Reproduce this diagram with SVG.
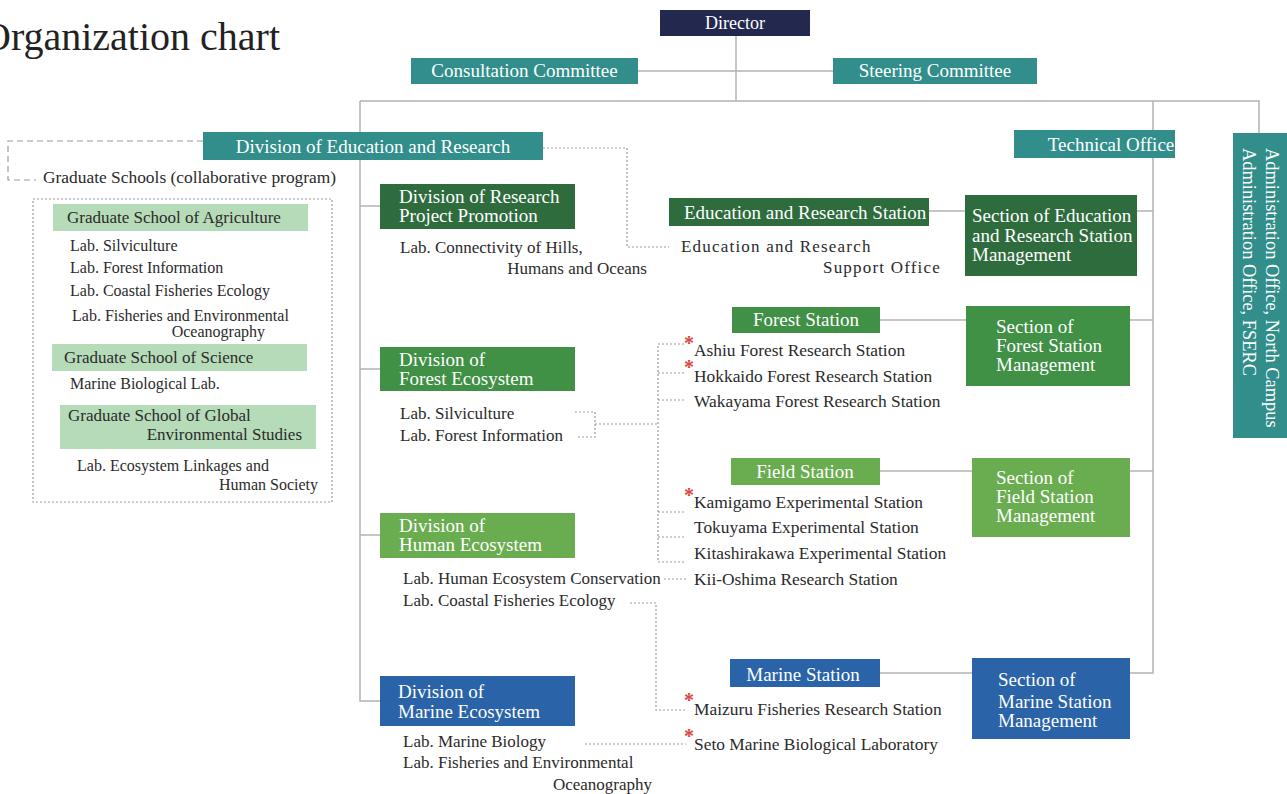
<svg xmlns="http://www.w3.org/2000/svg" width="1287" height="794" viewBox="0 0 1287 794">
<style>
  text { font-family: "Liberation Serif", "Times New Roman", serif; }
  .w { fill: #ffffff; font-size: 19px; }
  .t { fill: #2b2b2b; font-size: 17px; }
  .s { fill: #2b2b2b; font-size: 17.4px; }
  .g { fill: #2b2b2b; font-size: 16px; }
  .gh { fill: #2b2b2b; font-size: 17px; }
  .ast { fill: #d9473f; font-size: 20px; font-weight: bold; text-anchor: middle; }
  .solid { stroke: #b3b3b3; stroke-width: 1.5; fill: none; }
  .dot { stroke: #9c9c9c; stroke-width: 1.2; stroke-dasharray: 2 2; fill: none; }
  .dash { stroke: #9c9c9c; stroke-width: 1.2; stroke-dasharray: 6 4; fill: none; }
  .navy { fill: #23284f; }
  .teal { fill: #318e8b; }
  .dg { fill: #2e6c3e; }
  .mg { fill: #409046; }
  .lg { fill: #6aad51; }
  .bl { fill: #2a63a8; }
  .pg { fill: #b6dbb9; }
</style>

<text x="-18" y="50" style="font-size:40px" fill="#222">Organization chart</text>

<g id="connectors">
  <!-- solid hierarchy lines -->
  <path class="solid" d="M736 36 V101"/>
  <path class="solid" d="M638 71 H833"/>
  <path class="solid" d="M360 101 H1259 V133"/>
  <path class="solid" d="M360 101 V701 H380"/>
  <path class="solid" d="M360 206 H380"/>
  <path class="solid" d="M360 369 H380"/>
  <path class="solid" d="M360 535 H380"/>
  <path class="solid" d="M1153 101 V673 H1130"/>
  <path class="solid" d="M929 211 H965"/>
  <path class="solid" d="M1137 211 H1153"/>
  <path class="solid" d="M880 320 H966"/>
  <path class="solid" d="M1130 320 H1153"/>
  <path class="solid" d="M880 471 H972"/>
  <path class="solid" d="M1130 471 H1153"/>
  <path class="solid" d="M880 673 H972"/>
  <!-- dashed / dotted relations -->
  <path class="dash" d="M203 141 H8 V180 H36"/>
  <path class="dot" d="M543 148 H627 V247 H669"/>
  <path class="dot" d="M575 412 H595 V437 H577"/>
  <path class="dot" d="M595 424 H658"/>
  <path class="dot" d="M684 344 H658 V562 H684"/>
  <path class="dot" d="M658 373 H684"/>
  <path class="dot" d="M658 400 H686"/>
  <path class="dot" d="M658 512 H684"/>
  <path class="dot" d="M658 537 H684"/>
  <path class="dot" d="M664 579 H686"/>
  <path class="dot" d="M630 603 H656 V710 H686"/>
  <path class="dot" d="M585 744 H686"/>
  <!-- graduate schools frame -->
  <rect class="dot" x="33" y="199" width="299" height="303"/>
</g>

<g id="director">
  <rect class="navy" x="660" y="10" width="150" height="26"/>
  <text class="w" x="735" y="29" text-anchor="middle" style="font-size:18px">Director</text>
</g>
<g id="consultation-committee">
  <rect class="teal" x="411" y="58" width="227" height="26"/>
  <text class="w" x="524.5" y="77" text-anchor="middle">Consultation Committee</text>
</g>
<g id="steering-committee">
  <rect class="teal" x="833" y="58" width="204" height="26"/>
  <text class="w" x="935" y="77" text-anchor="middle">Steering Committee</text>
</g>
<g id="division-education-research">
  <rect class="teal" x="203" y="132" width="340" height="28"/>
  <text class="w" x="373" y="153" text-anchor="middle">Division of Education and Research</text>
</g>
<g id="technical-office">
  <rect class="teal" x="1014" y="130" width="161" height="28"/>
  <text class="w" x="1111" y="151" text-anchor="middle">Technical Office</text>
</g>
<g id="administration-office">
  <rect class="teal" x="1233" y="133" width="54" height="305"/>
  <text class="w" style="font-size:18.4px" transform="translate(1266 148) rotate(90)">Administration Office, North Campus</text>
  <text class="w" style="font-size:18.4px" transform="translate(1243 148) rotate(90)">Administration Office,  FSERC</text>
</g>

<g id="graduate-schools">
  <text class="s" x="43" y="183">Graduate Schools (collaborative program)</text>
</g>
<g id="gs-agriculture">
  <rect class="pg" x="53" y="204" width="255" height="27"/>
  <text class="gh" x="67" y="223">Graduate School of Agriculture</text>
  <text class="g" x="70" y="251">Lab. Silviculture</text>
  <text class="g" x="70" y="273">Lab. Forest Information</text>
  <text class="g" x="70" y="296">Lab. Coastal Fisheries Ecology</text>
  <text class="g" x="72" y="321">Lab. Fisheries and Environmental</text>
  <text class="g" x="265" y="337" text-anchor="end">Oceanography</text>
</g>
<g id="gs-science">
  <rect class="pg" x="52" y="344" width="255" height="27"/>
  <text class="gh" x="64" y="363">Graduate School of Science</text>
  <text class="g" x="70" y="389">Marine Biological Lab.</text>
</g>
<g id="gs-global">
  <rect class="pg" x="60" y="405" width="256" height="44"/>
  <text class="gh" x="68" y="421">Graduate School of Global</text>
  <text class="gh" x="302" y="440" text-anchor="end">Environmental Studies</text>
  <text class="g" x="77" y="471">Lab. Ecosystem Linkages and</text>
  <text class="g" x="318" y="490" text-anchor="end">Human Society</text>
</g>

<g id="division-research-project">
  <rect class="dg" x="380" y="184" width="195" height="45"/>
  <text class="w" x="399" y="203">Division of Research</text>
  <text class="w" x="399" y="222">Project Promotion</text>
  <text class="t" x="400" y="253">Lab. Connectivity of Hills,</text>
  <text class="t" x="647" y="274" text-anchor="end">Humans and Oceans</text>
</g>
<g id="division-forest-ecosystem">
  <rect class="mg" x="380" y="347" width="195" height="44"/>
  <text class="w" x="399" y="366">Division of</text>
  <text class="w" x="399" y="385">Forest Ecosystem</text>
  <text class="t" x="400" y="419">Lab. Silviculture</text>
  <text class="t" x="400" y="441">Lab. Forest Information</text>
</g>
<g id="division-human-ecosystem">
  <rect class="lg" x="380" y="513" width="195" height="45"/>
  <text class="w" x="399" y="532">Division of</text>
  <text class="w" x="399" y="551">Human Ecosystem</text>
  <text class="t" x="403" y="584">Lab. Human Ecosystem Conservation</text>
  <text class="t" x="403" y="606">Lab. Coastal Fisheries Ecology</text>
</g>
<g id="division-marine-ecosystem">
  <rect class="bl" x="380" y="676" width="195" height="50"/>
  <text class="w" x="398" y="698">Division of</text>
  <text class="w" x="398" y="718">Marine Ecosystem</text>
  <text class="t" x="403" y="747">Lab. Marine Biology</text>
  <text class="t" x="403" y="768">Lab. Fisheries and Environmental</text>
  <text class="t" x="652" y="790" text-anchor="end">Oceanography</text>
</g>

<g id="education-research-station">
  <rect class="dg" x="669" y="198" width="260" height="28"/>
  <text class="w" x="684" y="219">Education and Research Station</text>
  <text class="t" x="681" y="252" style="letter-spacing:1.2px">Education and Research</text>
  <text class="t" x="941" y="273" text-anchor="end" style="letter-spacing:1.2px">Support Office</text>
</g>
<g id="section-education-research-station">
  <rect class="dg" x="965" y="195" width="172" height="81"/>
  <text class="w" x="972" y="222">Section of Education</text>
  <text class="w" x="972" y="242">and Research Station</text>
  <text class="w" x="972" y="261">Management</text>
</g>

<g id="forest-station">
  <rect class="mg" x="732" y="307" width="148" height="26"/>
  <text class="w" x="806" y="326" text-anchor="middle">Forest Station</text>
  <text class="ast" x="689" y="350">*</text>
  <text class="s" x="694" y="356">Ashiu Forest Research Station</text>
  <text class="ast" x="689" y="374">*</text>
  <text class="s" x="694" y="382">Hokkaido Forest Research Station</text>
  <text class="s" x="694" y="407">Wakayama Forest Research Station</text>
</g>
<g id="section-forest-station">
  <rect class="mg" x="966" y="306" width="164" height="80"/>
  <text class="w" x="996" y="333">Section of</text>
  <text class="w" x="996" y="352">Forest Station</text>
  <text class="w" x="996" y="371">Management</text>
</g>

<g id="field-station">
  <rect class="lg" x="731" y="458" width="149" height="27"/>
  <text class="w" x="805" y="478" text-anchor="middle">Field Station</text>
  <text class="ast" x="689" y="502">*</text>
  <text class="s" x="694" y="508">Kamigamo Experimental Station</text>
  <text class="s" x="694" y="533">Tokuyama Experimental Station</text>
  <text class="s" x="694" y="559">Kitashirakawa Experimental Station</text>
  <text class="s" x="694" y="585">Kii-Oshima Research Station</text>
</g>
<g id="section-field-station">
  <rect class="lg" x="972" y="458" width="158" height="79"/>
  <text class="w" x="996" y="484">Section of</text>
  <text class="w" x="996" y="503">Field Station</text>
  <text class="w" x="996" y="522">Management</text>
</g>

<g id="marine-station">
  <rect class="bl" x="730" y="659" width="150" height="28"/>
  <text class="w" x="803" y="681" text-anchor="middle">Marine Station</text>
  <text class="ast" x="689" y="707">*</text>
  <text class="s" x="694" y="715">Maizuru Fisheries Research Station</text>
  <text class="ast" x="689" y="743">*</text>
  <text class="s" x="694" y="750">Seto Marine Biological Laboratory</text>
</g>
<g id="section-marine-station">
  <rect class="bl" x="972" y="658" width="158" height="81"/>
  <text class="w" x="998" y="686">Section of</text>
  <text class="w" x="998" y="708">Marine Station</text>
  <text class="w" x="998" y="727">Management</text>
</g>
</svg>
